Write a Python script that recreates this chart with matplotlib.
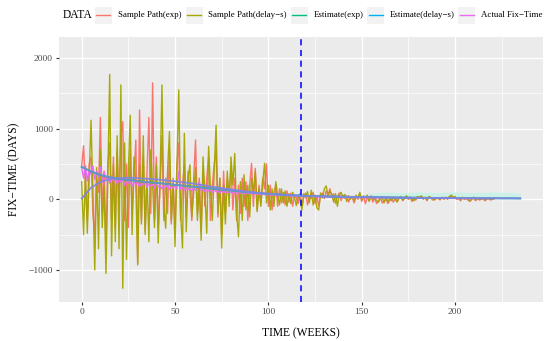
import numpy as np
import matplotlib.pyplot as plt
from matplotlib.patches import Rectangle
from matplotlib.lines import Line2D

plt.rcParams['font.family'] = ['Liberation Serif', 'DejaVu Serif']

# ---- data ----
path_delay = [
    250, -500, 400, -480, 300, 1120, 100, -1000, 450, -700,
    700, -400, 200, -1050, 300, 1770, -800, 500, -600, 900,
    -700, 1620, -1260, 800, -850, 400, 1190, -500, 600, 200,
    -930, 500, -350, 900, -500, 300, -600, 700, 200, -400,
    500, -620, 300, 1620, -100, -410, 400, 960, -300, 200,
    -670, 400, 1550, -200, -690, 935, -460, 300, 490, -250,
    100, 450, -300, 200, -580, 600, 100, -480, 750, 150,
    -300, 400, 1050, -200, 300, -690, 200, -350, 400, -100,
    600, 200, 650, -200, -530, 250, -300, 350, -150, 200,
    -250, 300, 100, 400, -175, 150, -100, 250, 510, -50,
    200, -150, 150, -100, 250, 50, -80, 150, -50, 120,
    -100, 80, -60, 100, 30, -90, 60, -10, -150, 80,
    20, 110, -50, 130, -80, 60, -120, -150, 90, 20,
    150, 190, 40, 120, 70, -40, 80, -100, 60, 100,
    20, 70, -30, 50, 0, 40, -20, 60, 10, 100,
    -10, 50, 20, 60, -30, 40, 0, 30, -20, -40,
    10, 30, -50, 20, -30, 10, -20, 30, 0, -40,
    20, 40, -10, 10, 50, 10, 30, 0, -20, 20,
    40, 30, 50, 10, 20, -10, 40, 30, 10, -10,
    20, 10, 0, 20, 10, 30, 0, 40, 60, 30,
    40, 10, 20, -10, 30, 10, 20, 0, -20, 10,
    30, -10, 20, 0, 10, 20, -10, 10, 20, 0,
    10, 10,
]
path_exp = [
    480, 760, 200, -300, 500, 600, -200, -500, 300, 100,
    1160, -200, 400, -600, 500, 800, -300, 600, -400, 700,
    -100, 900, 1100, -300, 500, -400, 700, -200, 300, 840,
    -900, 1265, -300, 600, -450, 400, 1160, -200, 1650, -300,
    600, -400, 200, 900, -300, 300, -200, 700, -350, 300,
    -400, 500, 800, -300, 200, 500, -250, 400, 100, -300,
    300, 840, -200, 300, -450, 400, -100, 300, 600, -300,
    200, 500, 700, -250, 300, -500, 400, -200, 300, 100,
    450, -150, 300, -300, 200, -200, 300, -100, 250, -300,
    200, 510, -100, 440, -150, 200, -50, 300, 150, 500,
    -100, 200, -150, 100, 200, -100, 150, -50, 100, -80,
    120, -40, 90, -100, 60, 20, -60, 80, -100, 40,
    90, -80, 50, 10, 100, -60, 40, -100, 50, 90,
    10, 120, 60, 150, 30, 80, -60, 40, 90, -20,
    60, 10, 50, -40, 30, 20, -50, 40, 0, 80,
    -30, 40, -60, 30, -20, 50, -40, 20, -60, -20,
    20, -50, -30, 10, -60, -20, 10, -40, 20, -30,
    10, 30, -20, 20, 40, 0, 20, -30, 10, -10,
    30, 20, 40, 0, 30, -20, 30, 20, -10, 0,
    10, 20, -10, 30, 0, 20, 10, 30, 50, 20,
    30, 0, 10, -20, 20, 0, 10, -10, -30, 0,
    20, -20, 10, -10, 0, 10, -20, 0, 10, -10,
    0, 10,
]
actual_fix = [
    450, 300, 480, 260, 420, 350, 470, 280, 400, 320,
    460, 250, 380, 290, 340, 230, 330, 260, 310, 220,
    300, 240, 280, 200, 270, 230, 260, 190, 250, 210,
    240, 180, 230, 200, 250, 170, 220, 190, 210, 160,
    230, 180, 200, 150, 190, 170, 210, 140, 180, 160,
    200, 150, 390, 140, 170, 130, 160, 140, 150, 120,
    170, 130, 140, 250, 120, 150, 110, 140, 120, 130,
    100, 130, 110, 120, 90, 120, 100, 110, 90, 110,
    100, 90, 110, 80, 100, 90, 95, 80, 90, 85,
    80, 90, 75, 85, 70, 80, 65, 75, 70, 60,
    75, 65, 60, 70, 55, 65, 60, 50, 60, 55,
    50, 55, 45, 50, 45, 50, 40, 45, 40, 45,
    40, 38, 42, 36, 40, 35, 38, 33, 36, 32,
    35, 31, 34, 30, 32, 29, 31, 28, 30, 27,
    29, 27, 28, 26, 27, 25, 26, 24, 25, 24,
    25, 23, 24, 22, 23, 22, 22, 21, 22, 20,
    21, 20, 20, 19, 20, 19, 19, 18, 19, 18,
    18, 17, 18, 17, 17, 16, 17, 16, 16, 15,
    16, 15, 15, 15, 15, 14, 15, 14, 14, 14,
    14, 13, 14, 13, 13, 13, 13, 12, 13, 12,
    12, 12, 12, 12, 11, 12, 11, 11, 11, 11,
    11, 10, 11, 10, 10, 10, 10, 10, 10, 10,
    10, 10,
]
est_weeks = list(range(0, 236, 5))
est_exp = [460, 395, 345, 310, 290, 275, 260, 245, 232, 220,
           205, 192, 178, 165, 150, 138, 125, 112, 100, 88,
           78, 70, 62, 55, 50, 45, 42, 39, 37, 35,
           33, 31, 29, 27, 25, 24, 22, 21, 20, 19,
           18, 17, 16, 15, 15, 14, 14, 13]
est_delay = [10, 165, 245, 285, 300, 305, 300, 292, 282, 270,
             255, 240, 222, 200, 178, 160, 140, 122, 105, 92,
             80, 70, 62, 55, 50, 45, 42, 39, 37, 35,
             33, 31, 29, 27, 25, 24, 22, 21, 20, 19,
             18, 17, 16, 15, 15, 14, 14, 13]
band_weeks = list(range(150, 236, 5))
band_low = [10, 12, 8, 10, 12, 10, 8, 10, 12, 10, 10, 8, 10, 12, 10, 10, 8, 10]
band_high = [60, 90, 100, 105, 95, 100, 105, 100, 95, 100, 105, 100, 95, 100, 105, 100, 95, 90]
cutoff_week = 117.5

labels = ['Sample Path(exp)', 'Sample Path(delay\u2212s)', 'Estimate(exp)',
          'Estimate(delay\u2212s)', 'Actual Fix\u2212Time']
colors = ['#F8766D', '#A3A500', '#00BF7D', '#00B0F6', '#E76BF3']

weeks = np.arange(len(path_delay))

W, H = 550, 341
fig = plt.figure(figsize=(W / 100, H / 100), dpi=100)
ax = fig.add_axes([59.3 / W, 1 - 301.7 / H, (542.7 - 59.3) / W, (301.7 - 37.3) / H])
ax.set_facecolor('#EBEBEB')

# ribbons
ax.fill_between(weeks, path_exp, actual_fix, color='#FFC6DE', alpha=0.6, lw=0)
ax.fill_between(band_weeks, band_low, band_high, color='#C4F2E6', alpha=0.8, lw=0)

ax.plot(weeks, path_exp, color=colors[0], lw=1.0)
ax.plot(weeks, path_delay, color=colors[1], lw=1.0, alpha=0.95)
ax.plot(weeks, actual_fix, color=colors[4], lw=1.0)
ax.plot(est_weeks, est_exp, color=colors[2], lw=1.3)
ax.plot(est_weeks, est_exp, color='#8A84E4', lw=1.1, alpha=0.8)
ax.plot(est_weeks, est_delay, color='#7F86E2', lw=1.2)
ax.axvline(cutoff_week, color='#0000FF', ls=(0, (4, 3)), lw=1.1)

ax.set_xlim(-12, 247)
ax.set_ylim(-1450, 2295)
ax.set_xticks([0, 50, 100, 150, 200])
ax.set_xticks([25, 75, 125, 175, 225], minor=True)
ax.set_yticks([-1000, 0, 1000, 2000])
ax.set_yticks([-500, 500, 1500], minor=True)
ax.grid(which='major', color='white', lw=1.0)
ax.grid(which='minor', color='white', lw=0.5)
ax.set_axisbelow(True)
for s in ax.spines.values():
    s.set_visible(False)
ax.tick_params(which='major', length=2.5, width=0.8, color='#333333',
               labelsize=6.8, labelcolor='#4D4D4D', pad=2)
ax.tick_params(which='minor', length=0)
ax.set_xlabel('TIME (WEEKS)', fontsize=8.3, labelpad=8)
ax.set_ylabel('FIX\u2212TIME (DAYS)', fontsize=8.3, labelpad=6)

# legend along the top
ly = 1 - 15 / H
fig.text(62.5 / W, ly, 'DATA', fontsize=8.3, va='center', ha='left')
key_x = [94.8, 185.5, 290.8, 367.0, 458.0]
for lab, col, kx in zip(labels, colors, key_x):
    fig.patches.append(Rectangle((kx / W, ly - 8.5 / H), 17 / W, 17 / H,
                                 transform=fig.transFigure, color='#F2F2F2', lw=0))
    fig.lines.append(Line2D([(kx + 1.5) / W, (kx + 15.5) / W], [ly, ly],
                            transform=fig.transFigure, color=col, lw=1.0))
    fig.text((kx + 23) / W, ly, lab, fontsize=6.4, va='center', ha='left')

fig.savefig('out.png', dpi=100)
